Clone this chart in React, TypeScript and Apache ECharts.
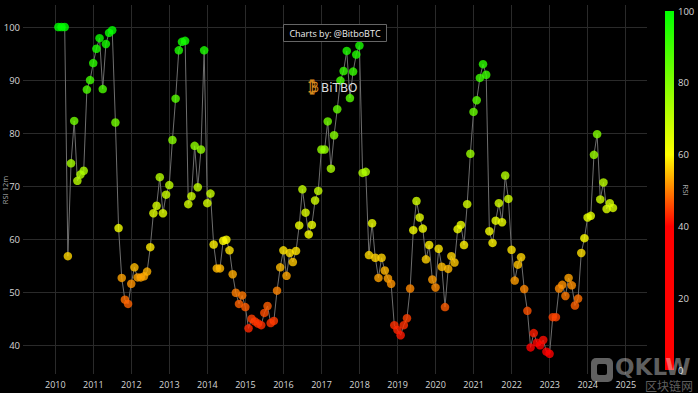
import React, { useEffect, useRef } from "react";
import * as echarts from "echarts";

// Monthly RSI (12m) values, Jan 2010 .. Aug 2024
const rsiValues: number[] = [
  100, 100, 100, 56.8, 74.3, 82.3, 71.0, 72.2, 72.9, 88.2,
  90.0, 93.2, 95.9, 97.9, 88.3, 96.8, 98.9, 99.4, 82.0, 62.1,
  52.7, 48.6, 47.8, 51.6, 54.7, 52.8, 52.8, 53.0, 53.9, 58.5,
  64.9, 66.3, 71.7, 64.9, 68.4, 70.2, 78.7, 86.5, 95.6, 97.2,
  97.4, 66.6, 68.1, 77.6, 69.8, 76.9, 95.6, 66.8, 68.6, 59.0,
  54.5, 54.5, 59.7, 59.9, 57.9, 53.4, 49.9, 47.8, 49.4, 47.2,
  43.2, 45.0, 44.5, 44.1, 43.8, 46.1, 47.4, 44.2, 44.6, 50.3,
  54.7, 57.9, 53.1, 57.4, 55.7, 57.8, 62.6, 69.4, 65.0, 60.9,
  62.7, 67.3, 69.1, 76.9, 76.9, 82.2, 73.3, 79.6, 84.5, 89.9,
  91.7, 95.5, 86.6, 91.6, 94.8, 96.5, 72.5, 72.7, 57.0, 63.0,
  56.5, 52.7, 56.5, 54.1, 52.6, 51.6, 43.8, 42.9, 41.9, 43.8,
  45.1, 50.7, 61.7, 67.2, 64.1, 62.0, 56.2, 58.9, 52.4, 50.9,
  58.2, 54.8, 47.2, 54.4, 56.8, 55.6, 61.9, 62.7, 58.9, 66.6,
  76.1, 84.0, 86.2, 90.4, 93.0, 91.0, 61.5, 59.3, 63.5, 66.8,
  63.2, 72.0, 67.6, 58.0, 52.2, 55.2, 56.6, 50.6, 46.5, 39.6,
  42.3, 40.5, 40.0, 41.0, 38.8, 38.4, 45.3, 45.3, 50.7, 51.4,
  49.3, 52.7, 51.3, 47.5, 48.8, 57.4, 60.2, 64.1, 64.4, 75.9,
  79.8, 67.5, 70.7, 65.7, 66.8, 65.9,
];
const startYear = 2010; // first value = end of Jan 2010, monthly
const yearTicks: number[] = [2010, 2011, 2012, 2013, 2014, 2015, 2016, 2017, 2018, 2019, 2020, 2021, 2022, 2023, 2024, 2025];
const rsiTicks: number[] = [40, 50, 60, 70, 80, 90, 100];
const colorbarTicks: number[] = [0, 20, 40, 60, 80, 100];
const colorStops: string[] = ["#ff0000", "#ff0000", "#ff0000", "#ffff00", "#80ff00", "#00ff00"];

export default function App() {
  const ref = useRef<HTMLDivElement>(null);
  useEffect(() => {
    document.body.style.margin = "0";
    document.body.style.background = "#000";
    if (!ref.current) return;
    const chart = echarts.init(ref.current, undefined, { renderer: "svg" });
    const points = rsiValues.map((v, i) => [startYear + (i + 0.97) / 12, v]);
    const labelColor = "#d6d6d6";
    const font = "Open Sans";
    chart.setOption({
      animation: false,
      backgroundColor: "#000",
      grid: [
        { left: 23, right: 51, top: 5, bottom: 19 },
        { left: 665, width: 9, top: 11, height: 359 },
      ],
      xAxis: [
        {
          type: "value", gridIndex: 0, min: 2009.151, max: 2025.559,
          axisLine: { show: false },
          axisTick: { show: false, customValues: yearTicks },
          axisLabel: { customValues: yearTicks, formatter: (v: number) => String(v), color: labelColor, fontSize: 9, fontFamily: font, margin: 6 },
          splitLine: { show: true, lineStyle: { color: "#2a2a2a", width: 1 } },
        },
        { type: "value", gridIndex: 1, show: false, min: 0, max: 1 },
      ],
      yAxis: [
        {
          type: "value", gridIndex: 0, min: 34.59, max: 104.15,
          axisLine: { show: false },
          axisTick: { show: false, customValues: rsiTicks },
          axisLabel: { customValues: rsiTicks, color: labelColor, fontSize: 9.5, fontFamily: font, margin: 3 },
          splitLine: { show: true, lineStyle: { color: "#2a2a2a", width: 1 } },
        },
        {
          type: "value", gridIndex: 1, position: "right", min: 0, max: 100,
          axisLine: { show: false }, axisTick: { show: false, customValues: colorbarTicks }, splitLine: { show: false },
          axisLabel: { customValues: colorbarTicks, color: labelColor, fontSize: 9.5, fontFamily: font, margin: 4 },
        },
      ],
      visualMap: {
        type: "continuous", show: false, seriesIndex: 1, dimension: 1,
        min: 0, max: 100, inRange: { color: colorStops },
      },
      series: [
        {
          type: "line", xAxisIndex: 0, yAxisIndex: 0, data: points,
          showSymbol: false, symbol: "none",
          lineStyle: { color: "#6e6e6e", width: 1 }, z: 2,
        },
        {
          type: "scatter", xAxisIndex: 0, yAxisIndex: 0, data: points,
          symbol: "circle", symbolSize: 8.5, z: 3,
        },
      ],
      graphic: [
        {
          type: "rect", shape: { x: 665, y: 11, width: 9, height: 359 },
          style: {
            fill: {
              type: "linear", x: 0, y: 0, x2: 0, y2: 1,
              colorStops: [
                { offset: 0, color: "#00ff00" },
                { offset: 0.2, color: "#80ff00" },
                { offset: 0.4, color: "#ffff00" },
                { offset: 0.6, color: "#ff0000" },
                { offset: 1, color: "#ff0000" },
              ],
            },
          },
        },
        {
          type: "text", x: 686, y: 190, rotation: -Math.PI / 2,
          style: { text: "RSI", fill: "#aaa", font: `8px ${font}`, align: "center", verticalAlign: "middle" },
        },
        {
          type: "text", x: 4.5, y: 190, rotation: Math.PI / 2,
          style: { text: "RSI 12m", fill: "#aaa", font: `7.5px ${font}`, align: "center", verticalAlign: "middle" },
        },
        {
          type: "rect", shape: { x: 283.5, y: 24.5, width: 103, height: 17 },
          style: { fill: "#000", stroke: "#666", lineWidth: 1 }, z: 10,
        },
        {
          type: "text", x: 335, y: 33.2, z: 11,
          style: { text: "Charts by: @BitboBTC", fill: "#eee", font: `9px ${font}`, align: "center", verticalAlign: "middle" },
        },
        {
          type: "text", x: 313.5, y: 87, z: 11,
          style: { text: "₿", fill: "transparent", stroke: "#d98a1e", lineWidth: 1, font: `bold 14px DejaVu Sans`, align: "center", verticalAlign: "middle" },
        },
        {
          type: "text", x: 321, y: 87.5, z: 11,
          style: { text: "BiTBO", fill: "#dddddd", font: `12px DejaVu Sans`, align: "left", verticalAlign: "middle" },
        },
        {
          type: "rect", shape: { x: 591, y: 358, width: 22, height: 24, r: 5 },
          style: { fill: "rgba(255,255,255,0.38)" }, z: 20,
        },
        {
          type: "rect", shape: { x: 597, y: 364, width: 10, height: 11, r: 2 },
          style: { fill: "#000" }, z: 21,
        },
        {
          type: "text", x: 615, y: 367, z: 20,
          style: { text: "QKLW", fill: "rgba(255,255,255,0.38)", font: `bold 23px DejaVu Sans`, align: "left", verticalAlign: "middle" },
        },
        {
          type: "text", x: 645, y: 385, z: 20,
          style: { text: "区块链网", fill: "rgba(255,255,255,0.38)", font: `12px "Noto Sans CJK SC"`, align: "left", verticalAlign: "middle" },
        },
      ],
    });
    return () => chart.dispose();
  }, []);
  return <div ref={ref} style={{ width: 698, height: 393, background: "#000" }} />;
}
